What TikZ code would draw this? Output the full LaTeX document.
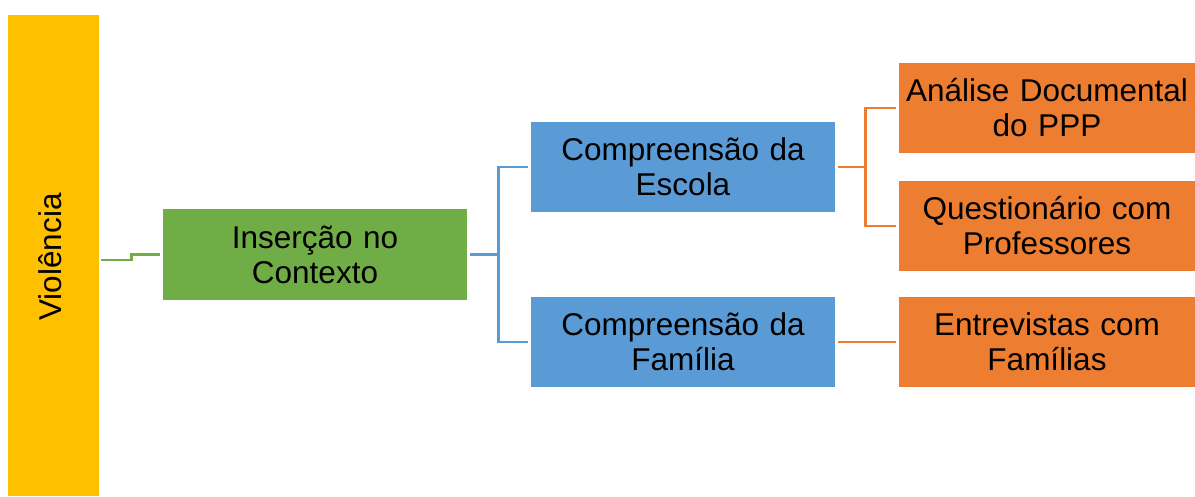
\documentclass[tikz,border=0pt]{standalone}
\usepackage{fontspec}
\setmainfont{Liberation Sans}
\definecolor{cyel}{HTML}{FFC000}
\definecolor{cgrn}{HTML}{70AD47}
\definecolor{cblu}{HTML}{5B9BD5}
\definecolor{cora}{HTML}{ED7D31}
\begin{document}
\begin{tikzpicture}[x=1pt,y=-1pt,
  box/.style={inner sep=0pt,minimum width=#1,text width=#1,align=center,
    font=\fontsize{31.5}{35}\selectfont,text=black},
  gbox/.style={box=304pt,fill=cgrn,minimum height=91pt},
  bbox/.style={box=304pt,fill=cblu,minimum height=90pt},
  obox/.style={box=296pt,fill=cora,minimum height=90pt},
  conn/.style={line width=2.8pt}]
\useasboundingbox (0,0) rectangle (1195,496);
\node[fill=cyel,minimum width=91pt,minimum height=481pt,inner sep=0pt] (viol) at (53.5,255.5) {};
\node[rotate=90,font=\fontsize{31.5}{35}\selectfont,inner sep=0pt] (violt) at (50,257) {Violência};
\node[gbox] (ins) at (315,254.5) {Inserção no\\Contexto};
\node[bbox] (ce) at (683,167) {Compreensão da\\Escola};
\node[bbox] (cf) at (683,342) {Compreensão da\\Família};
\node[obox] (a1) at (1047,108) {Análise Documental\\do PPP};
\node[obox] (a2) at (1047,226) {Questionário com\\Professores};
\node[obox] (a3) at (1047,342) {Entrevistas com\\Famílias};
\draw[conn,cgrn] ([xshift=2pt,yshift=-4.5pt]viol.east) -- ++(30,0) |- ([xshift=-3pt]ins.west);
\draw[conn,cblu] ([xshift=3pt]ins.east) -- ([xshift=-32pt]ins.east -| ce.west);
\draw[conn,cblu] ([xshift=-3pt]ce.west) -- ([xshift=-32pt]ce.west) -- ([xshift=-32pt]cf.west) -- ([xshift=-3pt]cf.west);
\draw[conn,cora] ([xshift=3pt]ce.east) -- ([xshift=-33pt]ce.east -| a1.west);
\draw[conn,cora] ([xshift=-3pt]a1.west) -- ([xshift=-33pt]a1.west) -- ([xshift=-33pt]a2.west) -- ([xshift=-3pt]a2.west);
\draw[conn,cora] ([xshift=3pt]cf.east) -- ([xshift=-3pt]a3.west);
\end{tikzpicture}
\end{document}
